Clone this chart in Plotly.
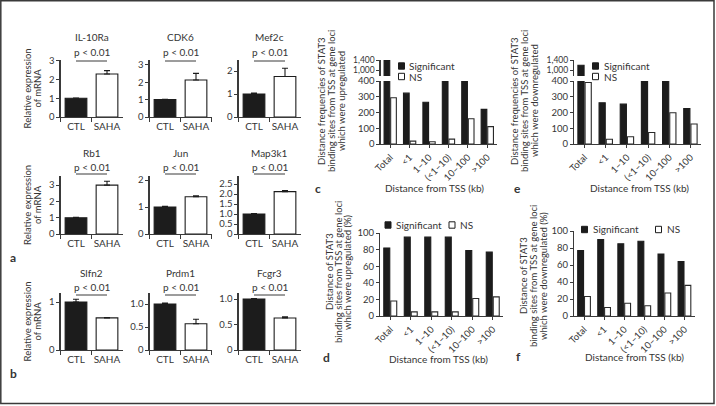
import plotly.graph_objects as go

W, H = 716, 406
FONT = "Lato"
TXT = "#353535"
AX = "#3a3a3a"
BLACK = "#1c1c1c"

def px(x):
    return x / W

def py(y):
    return 1 - y / H

# ---------------- data: panels a & b ----------------
groups = ["CTL", "SAHA"]
genes = ["IL-10Ra", "CDK6", "Mef2c", "Rb1", "Jun", "Map3k1", "Slfn2", "Prdm1", "Fcgr3"]
ctl_mean = [1.0, 1.0, 1.0, 1.0, 1.0, 1.0, 1.0, 1.0, 1.0]
ctl_err = [0.02, 0.02, 0.04, 0.02, 0.03, 0.02, 0.06, 0.02, 0.01]
saha_mean = [2.30, 2.13, 1.76, 3.00, 1.38, 2.12, 0.67, 0.57, 0.63]
saha_err = [0.18, 0.38, 0.36, 0.24, 0.04, 0.05, 0.01, 0.10, 0.02]
y_max = [3.05, 3.28, 2.48, 3.56, 2.15, 2.9, 1.19, 1.24, 1.12]
y_tickvals = [[0, 1, 2, 3], [0, 1, 2, 3], [0, 1, 2], [0, 1, 2, 3], [0, 1, 2],
              [0, 0.5, 1, 1.5, 2, 2.5], [0, 1], [0, 0.5, 1], [0, 0.5, 1]]
y_ticktext = [["0", "1", "2", "3"], ["0", "1", "2", "3"], ["0", "1", "2"], ["0", "1", "2", "3"],
              ["0", "1", "2"], ["0", "0.5", "1.0", "1.5", "2.0", "2.5"], ["0", "1"],
              ["0", "0.5", "1.0"], ["0", "0.5", "1.0"]]
p_label = "p < 0.01"

# ---------------- data: panels c-f ----------------
dist_cats = ["Total", "<1", "1–10", "(<1–10)", "10–100", ">100"]
c_sig = [1400, 323, 265, 588, 592, 220]
c_ns = [294, 18, 14, 31, 160, 110]
e_sig = [1210, 262, 253, 515, 470, 225]
e_ns = [390, 30, 46, 73, 198, 127]
d_sig = [82, 95, 95, 95, 79, 77]
d_ns = [18, 5, 5, 5, 21, 23]
f_sig = [77, 90, 85, 88, 73, 64]
f_ns = [23, 10, 15, 12, 27, 36]
series_names = ["Significant", "NS"]
low_ticks = [0, 100, 200, 300, 400]
up_ticks = [1000, 1400]
up_ticktext = ["1,000", "1,400"]
pct_ticks = [0, 20, 40, 60, 80, 100]

fig = go.Figure()
layout = {}
shapes = []
annotations = []

def ann(text, x, y, size=10, angle=0, bold=False, xanchor="center", color=TXT):
    if bold:
        text = "<b>" + text + "</b>"
    annotations.append(dict(text=text, x=px(x), y=py(y), xref="paper", yref="paper",
                            showarrow=False, textangle=angle, xanchor=xanchor, yanchor="middle",
                            font=dict(family=FONT, size=size, color=color)))

def base_axis(**kw):
    d = dict(showline=True, linecolor=AX, linewidth=1.1, ticks="outside", ticklen=3,
             tickwidth=1, tickcolor=AX, showgrid=False, zeroline=False, fixedrange=True,
             automargin=False, tickfont=dict(family=FONT, size=9.5, color=TXT))
    d.update(kw)
    return d

# ---------------- small bar panels ----------------
col_x = [(60.5, 122.5), (149.5, 211.5), (238.5, 300.5)]
row_y = [(60, 117), (176, 234), (293, 350)]
title_y = [37, 153, 273]
p_y = [52, 167, 287]
pline_y = [61, 174, 295]

for i, g in enumerate(genes):
    r, c = divmod(i, 3)
    n = i + 1
    xs = "x" if n == 1 else f"x{n}"
    ys = "y" if n == 1 else f"y{n}"
    fig.add_trace(go.Bar(
        x=groups, y=[ctl_mean[i], saha_mean[i]], width=0.7,
        marker=dict(color=[BLACK, "white"], line=dict(color=BLACK, width=1.1)),
        error_y=dict(type="data", symmetric=False, array=[ctl_err[i], saha_err[i]],
                     arrayminus=[0, 0], color=BLACK, thickness=1.1, width=3),
        xaxis=xs, yaxis=ys, showlegend=False))
    x0, x1 = col_x[c]
    yt, yb = row_y[r]
    layout["xaxis" if n == 1 else f"xaxis{n}"] = base_axis(
        domain=[px(x0), px(x1)], anchor=ys, type="category", range=[-0.5, 1.5],
        tickson="boundaries", ticklen=4, tickangle=0,
        tickfont=dict(family=FONT, size=10, color=TXT))
    layout["yaxis" if n == 1 else f"yaxis{n}"] = base_axis(
        domain=[py(yb), py(yt)], anchor=xs, range=[0, y_max[i]],
        tickvals=y_tickvals[i], ticktext=y_ticktext[i])
    cx = (x0 + x1) / 2
    ann(g, cx, title_y[r], size=10)
    ann(p_label, cx, p_y[r], size=10)
    shapes.append(dict(type="line", xref=xs, yref="paper", x0=groups[0], x1=groups[1],
                       y0=py(pline_y[r]), y1=py(pline_y[r]), line=dict(color=AX, width=1)))

for r in range(3):
    yc = (row_y[r][0] + row_y[r][1]) / 2
    ann("Relative expression", 27, yc, size=9.5, angle=-90)
    ann("of mRNA", 37, yc, size=9.5, angle=-90)
ann("a", 13, 257, size=12, bold=True)
ann("b", 13, 373, size=12, bold=True)

# ---------------- distance panels ----------------
def add_pair(sig, ns, xa, ya):
    for name, vals, fill, lc in [(series_names[0], sig, BLACK, BLACK),
                                 (series_names[1], ns, "white", "#2a2a2a")]:
        fig.add_trace(go.Bar(x=dist_cats, y=vals, name=name,
                             marker=dict(color=fill, line=dict(color=lc, width=1.1)),
                             xaxis=xa, yaxis=ya, showlegend=False))

def dist_xaxis(x0, x1, anchor, visible=True):
    return base_axis(domain=[px(x0), px(x1)], anchor=anchor, type="category",
                     range=[-0.5, 5.5], tickangle=-45, visible=visible,
                     tickfont=dict(family=FONT, size=9.5, color=TXT))

def dist_yaxis(y0, y1, anchor, rng, vals, text=None, size=9.5):
    d = base_axis(domain=[py(y0), py(y1)], anchor=anchor, range=rng, tickvals=vals,
                  tickfont=dict(family=FONT, size=size, color=TXT))
    if text:
        d["ticktext"] = text
    return d

UP_RANGE = [780, 1440]
LOW_DOM = (144, 81)
UP_DOM = (76, 59.5)
# c: lower (10) and upper (11)
c_x = (380.5, 497)
add_pair(c_sig, c_ns, "x10", "y10")
add_pair(c_sig, c_ns, "x11", "y11")
layout["xaxis10"] = dist_xaxis(*c_x, "y10")
layout["yaxis10"] = dist_yaxis(*LOW_DOM, "x10", [0, 400], low_ticks)
layout["xaxis11"] = dist_xaxis(*c_x, "y11", visible=False)
layout["yaxis11"] = dist_yaxis(*UP_DOM, "x11", UP_RANGE, up_ticks, up_ticktext, size=8.5)
# e: lower (12) and upper (13)
e_x = (574, 701)
add_pair(e_sig, e_ns, "x12", "y12")
add_pair(e_sig, e_ns, "x13", "y13")
layout["xaxis12"] = dist_xaxis(*e_x, "y12")
layout["yaxis12"] = dist_yaxis(*LOW_DOM, "x12", [0, 400], low_ticks)
layout["xaxis13"] = dist_xaxis(*e_x, "y13", visible=False)
layout["yaxis13"] = dist_yaxis(*UP_DOM, "x13", UP_RANGE, up_ticks, up_ticktext, size=8.5)
# d (14)
add_pair(d_sig, d_ns, "x14", "y14")
layout["xaxis14"] = dist_xaxis(380, 503, "y14")
layout["yaxis14"] = dist_yaxis(316, 233, "x14", [0, 100], pct_ticks)
# f (15)
add_pair(f_sig, f_ns, "x15", "y15")
layout["xaxis15"] = dist_xaxis(574, 694.5, "y15")
layout["yaxis15"] = dist_yaxis(316, 231, "x15", [0, 100], pct_ticks)

# legend keys
def key(x, y, filled, label):
    shapes.append(dict(type="rect", xref="paper", yref="paper",
                       x0=px(x), x1=px(x + 6), y0=py(y + 3.2), y1=py(y - 3.2),
                       fillcolor=BLACK if filled else "white",
                       line=dict(color=BLACK, width=1)))
    ann(label, x + 9, y, size=10, xanchor="left")

key(398.5, 66, True, series_names[0]); key(398.5, 76.5, False, series_names[1])
key(592.5, 66, True, series_names[0]); key(592.5, 76.5, False, series_names[1])
key(385, 225, True, series_names[0]); key(449, 225, False, series_names[1])
key(581.5, 229.5, True, series_names[0]); key(655.5, 229.5, False, series_names[1])

# axis titles
def ytitle(lines, xs, yc):
    for t, x in zip(lines, xs):
        ann(t, x, yc, size=9.5, angle=-90)

ytitle(["Distance frequencies of STAT3", "binding sites from TSS at gene loci", "which were upregulated"],
       [322, 332, 342], 101)
ytitle(["Distance frequencies of STAT3", "binding sites from TSS at gene loci", "which were downregulated"],
       [515, 525, 535], 101)
ytitle(["Distance of STAT3", "binding sites from TSS at gene loci", "which were upregulated (%)"],
       [329, 338, 347], 272)
ytitle(["Distance of STAT3", "binding sites from TSS at gene loci", "which were downregulated (%)"],
       [523, 533, 543], 276)
xt = "Distance from TSS (kb)"
ann(xt, 435, 188, size=10)
ann(xt, 639, 188, size=10)
ann(xt, 438, 359, size=10)
ann(xt, 634, 357, size=10)
ann("c", 318, 188, size=12, bold=True)
ann("e", 517, 188, size=12, bold=True)
ann("d", 326, 357, size=12, bold=True)
ann("f", 518, 356, size=12, bold=True)

# frame
shapes.append(dict(type="rect", xref="paper", yref="paper", x0=px(0.8), x1=px(714), y0=py(403.5), y1=py(0.8),
                   line=dict(color="#3a3a3a", width=1.5), fillcolor="rgba(0,0,0,0)"))

fig.update_layout(**layout)
fig.update_layout(width=W, height=H, margin=dict(l=0, r=0, t=0, b=0, pad=0),
                  paper_bgcolor="white", plot_bgcolor="white", barmode="group",
                  bargap=0.32, bargroupgap=0.14, showlegend=False,
                  shapes=shapes, annotations=annotations,
                  font=dict(family=FONT, size=10, color=TXT))
fig.write_html("out.html", config={"displayModeBar": False, "staticPlot": True},
               post_script="document.body.style.margin='0';document.body.style.overflow='hidden';")
